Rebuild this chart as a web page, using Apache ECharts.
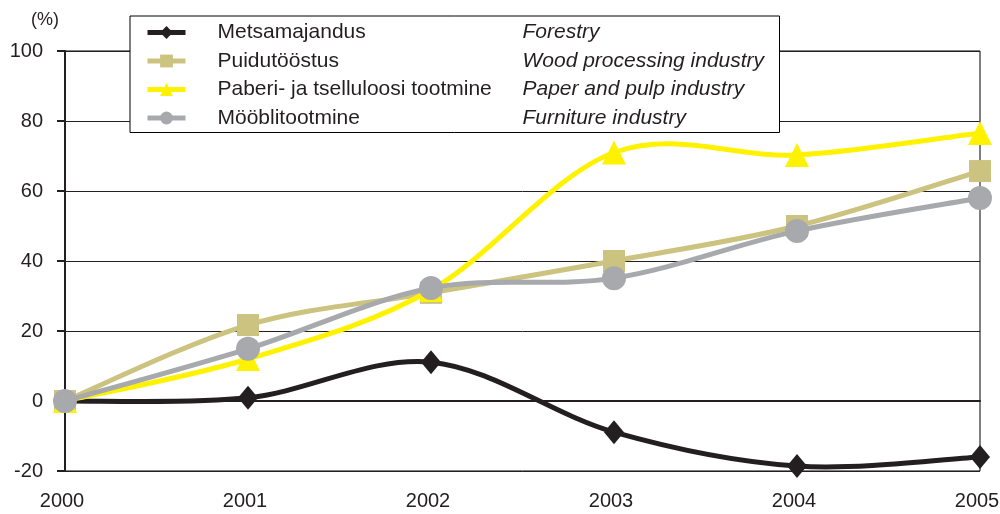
<!DOCTYPE html>
<html>
<head>
<meta charset="utf-8">
<script src="https://cdn.jsdelivr.net/npm/echarts@6/dist/echarts.min.js"></script>
<style>html,body{margin:0;padding:0;background:#fff}#c{width:1000px;height:514px}</style>
</head>
<body>
<div id="c"></div>
<script>
var years = ['2000', '2001', '2002', '2003', '2004', '2005'];
var namesEt = ['Metsamajandus', 'Puidutööstus', 'Paberi- ja tselluloosi tootmine', 'Mööblitootmine'];
var namesEn = ['Forestry', 'Wood processing industry', 'Paper and pulp industry', 'Furniture industry'];
var forestry = [0, 0.9, 11.1, -8.9, -18.6, -16.0];
var wood = [0, 21.7, 30.9, 40.0, 50.0, 65.7];
var paper = [0, 12.0, 31.7, 71.0, 70.3, 76.6];
var furniture = [0, 14.9, 32.3, 35.1, 48.6, 58.0];
var yTicks = {min: -20, max: 100, interval: 20};

var colors = ['#231f20', '#cbc37f', '#fff200', '#a7a9ac'];
var symbols = ['diamond', 'rect', 'triangle', 'circle'];
var symbolSizes = [[20, 24], 22, 24, 24];
var datasets = [forestry, wood, paper, furniture];
var FONT = 'Liberation Sans, Arial, sans-serif';

var enMap = {};
namesEt.forEach(function (n, i) { enMap[n] = namesEn[i]; });

// Excel-like smoothed curve (Catmull-Rom style Bezier segments), positioned by the axes
function curveSeries(d, color, z) {
  return {
    type: 'custom', name: '_curve' + z, z: z, silent: true,
    data: d.map(function (v, k) { return [k, v]; }),
    encode: {x: 0, y: 1},
    renderItem: function (params, api) {
      var i = params.dataIndex, n = d.length;
      if (i >= n - 1) return null;
      var pts = d.map(function (v, k) { return api.coord([k, v]); });
      var p0 = pts[Math.max(i - 1, 0)], p1 = pts[i], p2 = pts[i + 1], p3 = pts[Math.min(i + 2, n - 1)];
      return {
        type: 'bezierCurve',
        shape: {
          x1: p1[0], y1: p1[1], x2: p2[0], y2: p2[1],
          cpx1: p1[0] + (p2[0] - p0[0]) / 6, cpy1: p1[1] + (p2[1] - p0[1]) / 6,
          cpx2: p2[0] - (p3[0] - p1[0]) / 6, cpy2: p2[1] - (p3[1] - p1[1]) / 6
        },
        style: {stroke: color, lineWidth: 5, fill: null, lineCap: 'round'}
      };
    }
  };
}

var series = [];
datasets.forEach(function (d, i) {
  series.push(curveSeries(d, colors[i], 2 + 2 * i));
  series.push({
    name: namesEt[i], type: 'line', data: d,
    symbol: symbols[i], symbolSize: symbolSizes[i],
    lineStyle: {color: colors[i], width: 5, opacity: 0},
    itemStyle: {color: colors[i]},
    z: 3 + 2 * i
  });
});

var chart = echarts.init(document.getElementById('c'), null, {renderer: 'canvas'});
chart.setOption({
  animation: false,
  backgroundColor: '#fff',
  textStyle: {fontFamily: FONT},
  grid: {left: 65, right: 20, top: 51, bottom: 43, outerBoundsMode: 'none', containLabel: false,
    show: true, borderColor: '#000', borderWidth: 1, backgroundColor: 'transparent'},
  legend: {
    orient: 'vertical', left: 130, top: 16,
    backgroundColor: '#fff', borderColor: '#000', borderWidth: 1,
    padding: [6, 4, 4, 15],
    itemWidth: 38, itemHeight: 16, itemGap: 7.5,
    lineStyle: {width: 5, opacity: 1},
    data: namesEt,
    formatter: function (n) { return '{a|' + n + '}{b|' + enMap[n] + '}'; },
    textStyle: {
      fontFamily: FONT, fontSize: 21, color: '#231f20',
      rich: {
        a: {fontFamily: FONT, fontSize: 21, color: '#231f20', width: 305, padding: [0, 0, 0, 27], lineHeight: 20},
        b: {fontFamily: FONT, fontSize: 21, color: '#231f20', fontStyle: 'italic', width: 253, lineHeight: 20}
      }
    }
  },
  xAxis: {
    type: 'category', data: years, boundaryGap: false,
    axisLine: {lineStyle: {color: '#231f20', width: 2}},
    axisTick: {show: false},
    axisLabel: {fontFamily: FONT, fontSize: 20, color: '#231f20', margin: 20, padding: [0, 6, 0, 0]},
    splitLine: {show: false}
  },
  yAxis: {
    type: 'value', min: yTicks.min, max: yTicks.max, interval: yTicks.interval,
    name: '(%)', nameLocation: 'end', nameGap: 22,
    nameTextStyle: {fontFamily: FONT, fontSize: 18, color: '#231f20', align: 'right', padding: [0, 6, 0, 0]},
    axisLine: {show: true, lineStyle: {color: '#231f20', width: 2}},
    axisTick: {show: true, inside: false, length: 8, lineStyle: {color: '#231f20', width: 2}},
    axisLabel: {fontFamily: FONT, fontSize: 20, color: '#231f20', margin: 22},
    splitLine: {show: true, lineStyle: {color: '#231f20', width: 1}}
  },
  series: series
});
</script>
</body>
</html>
